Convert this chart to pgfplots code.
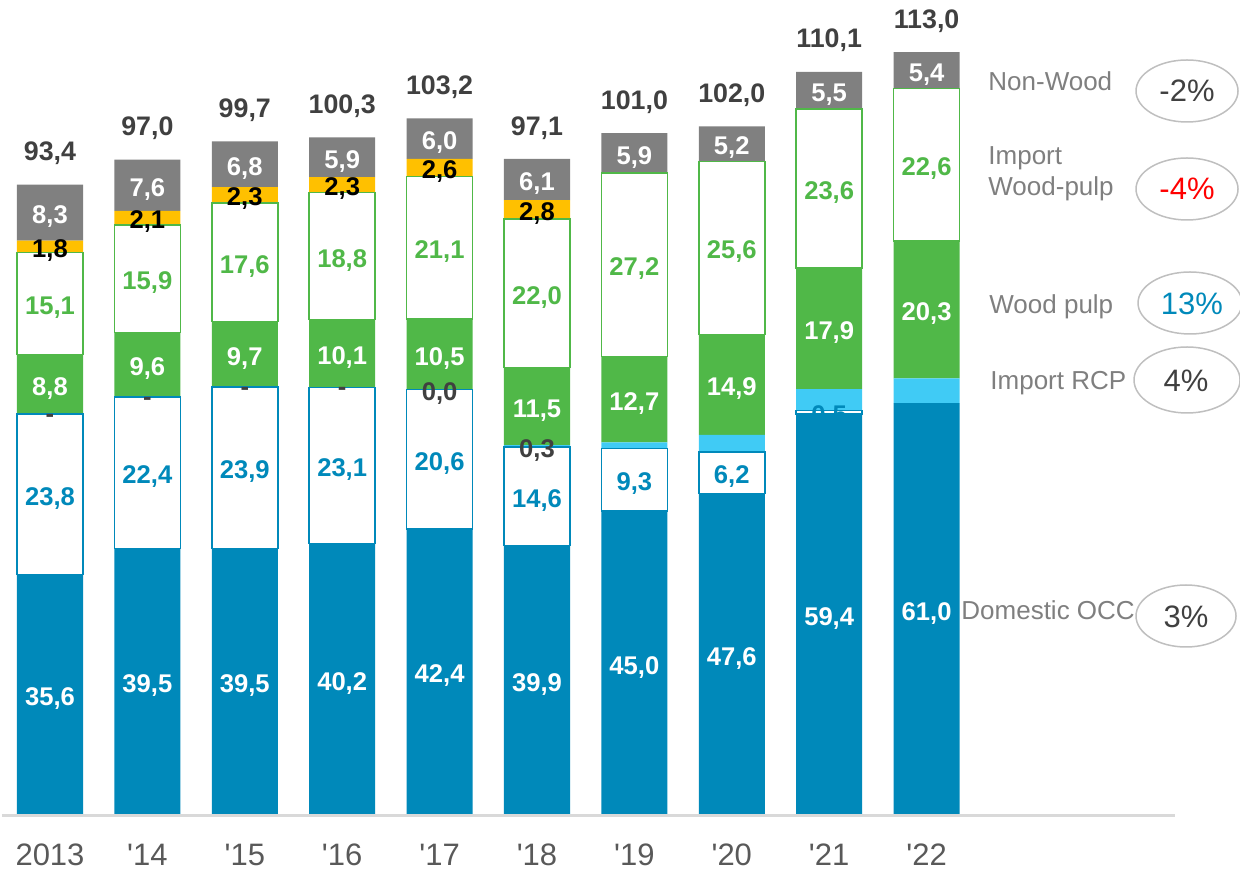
\documentclass[border=0pt]{standalone}
\usepackage{fontspec}
\setmainfont{Liberation Sans}[Ligatures=TeXOff]
\usepackage{pgfplots}
\usepackage{pgfplotstable}
\pgfplotsset{compat=1.18}
\definecolor{cocc}{HTML}{0089BA}
\definecolor{crcp}{HTML}{40CBF5}
\definecolor{cgr}{HTML}{50B848}
\definecolor{cyel}{HTML}{FFC000}
\definecolor{cnw}{HTML}{808080}
\definecolor{ctxt}{HTML}{404040}
\definecolor{ctick}{HTML}{595959}
\definecolor{clab}{HTML}{7F7F7F}
\definecolor{cell}{HTML}{BFBFBF}
\definecolor{caxis}{HTML}{D9D9D9}

\pgfplotstableread{
x occ locc imocc limocc rcp lrcp wp lwp imwp limwp yel lyel nw lnw tot
0 35.6 35,6 23.8 23,8 0   -   8.8  8,8  15.1 15,1 1.8 1,8 8.3 8,3 93,4
1 39.5 39,5 22.4 22,4 0   -   9.6  9,6  15.9 15,9 2.1 2,1 7.6 7,6 97,0
2 39.5 39,5 23.9 23,9 0   -   9.7  9,7  17.6 17,6 2.3 2,3 6.8 6,8 99,7
3 40.2 40,2 23.1 23,1 0   -   10.1 10,1 18.8 18,8 2.3 2,3 5.9 5,9 100,3
4 42.4 42,4 20.6 20,6 0   0,0 10.5 10,5 21.1 21,1 2.6 2,6 6.0 6,0 103,2
5 39.9 39,9 14.6 14,6 0.3 0,3 11.5 11,5 22.0 22,0 2.8 2,8 6.1 6,1 97,1
6 45.0 45,0 9.3  9,3  0.9 {}  12.7 12,7 27.2 27,2 0   {}  5.9 5,9 101,0
7 47.6 47,6 6.2  6,2  2.5 {}  14.9 14,9 25.6 25,6 0   {}  5.2 5,2 102,0
8 59.4 59,4 0.5  0,5  3.2 {}  17.9 17,9 23.6 23,6 0   {}  5.5 5,5 110,1
9 61.0 61,0 0    {}   3.7 {}  20.3 20,3 22.6 22,6 0   {}  5.4 5,4 113,0
}\data
% label positions: middle of each stacked segment (derived from the data above)
\pgfplotstablecreatecol[expr={\thisrow{occ}/2}]{c1}\data
\pgfplotstablecreatecol[expr={\thisrow{occ}+\thisrow{imocc}/2}]{c2}\data
\pgfplotstablecreatecol[expr={\thisrow{occ}+\thisrow{imocc}+\thisrow{rcp}/2}]{c3}\data
\pgfplotstablecreatecol[expr={\thisrow{occ}+\thisrow{imocc}+\thisrow{rcp}+\thisrow{wp}/2}]{c4}\data
\pgfplotstablecreatecol[expr={\thisrow{occ}+\thisrow{imocc}+\thisrow{rcp}+\thisrow{wp}+\thisrow{imwp}/2}]{c5}\data
\pgfplotstablecreatecol[expr={\thisrow{occ}+\thisrow{imocc}+\thisrow{rcp}+\thisrow{wp}+\thisrow{imwp}+\thisrow{yel}/2}]{c6}\data
\pgfplotstablecreatecol[expr={\thisrow{occ}+\thisrow{imocc}+\thisrow{rcp}+\thisrow{wp}+\thisrow{imwp}+\thisrow{yel}+\thisrow{nw}/2}]{c7}\data
\pgfplotstablecreatecol[expr={\thisrow{occ}+\thisrow{imocc}+\thisrow{rcp}+\thisrow{wp}+\thisrow{imwp}+\thisrow{yel}+\thisrow{nw}+5.2}]{c8}\data

\pgfplotsset{
  frame/.style={at={(0,0)}, anchor=south west, scale only axis, width=620pt, height=407.5pt,
    xmin=-0.5133, xmax=12.218, ymin=0, ymax=120.74, enlargelimits=false, clip=false},
  seglab/.style={draw=none, mark=none, nodes near coords, point meta=explicit symbolic,
    every node near coord/.append style={anchor=center, inner sep=0pt, yshift=-2pt,
      font=\bfseries\fontsize{12.8}{14}\selectfont, text=#1}},
}

\begin{document}
\begin{tikzpicture}
\begin{axis}[frame, name=ax,
  ybar stacked, bar width=0.678,
  axis line style={draw=none}, ytick=\empty,
  xtick={0,...,9}, xticklabels={2013,'14,'15,'16,'17,'18,'19,'20,'21,'22},
  major tick length=0pt,
  xticklabel style={anchor=center, yshift=-20pt, font=\fontsize{15.5}{16}\selectfont, text=ctick},
]
\draw[line width=1.5pt, color=caxis] (axis cs:-0.493,0) -- (axis cs:11.55,0);
\addplot[fill=cocc, draw=none] table[x=x,y=occ]{\data};
\addplot[fill=white, draw=cocc, line width=0.75pt] table[x=x,y=imocc]{\data};
\addplot[fill=crcp, draw=none] table[x=x,y=rcp]{\data};
\addplot[fill=cgr, draw=none] table[x=x,y=wp]{\data};
\addplot[fill=white, draw=cgr, line width=0.75pt] table[x=x,y=imwp]{\data};
\addplot[fill=cyel, draw=none] table[x=x,y=yel]{\data};
\addplot[fill=cnw, draw=none] table[x=x,y=nw]{\data};
\end{axis}
\begin{axis}[frame, hide axis]
\addplot[seglab=white] table[x=x,y=c1,meta=locc]{\data};
\addplot[seglab=cocc] table[x=x,y=c2,meta=limocc]{\data};
\addplot[seglab=ctxt] table[x=x,y=c3,meta=lrcp]{\data};
\addplot[seglab=white] table[x=x,y=c4,meta=lwp]{\data};
\addplot[seglab=cgr] table[x=x,y=c5,meta=limwp]{\data};
\addplot[seglab=black] table[x=x,y=c6,meta=lyel]{\data};
\addplot[seglab=white] table[x=x,y=c7,meta=lnw]{\data};
\addplot[seglab=ctxt, every node near coord/.append style={font=\bfseries\fontsize{13.4}{15}\selectfont}]
  table[x=x,y=c8,meta=tot]{\data};
\end{axis}
\begin{scope}[shift={(ax.north west)}, x=0.5pt, y=-0.5pt]
  \begin{scope}[every node/.style={anchor=west, inner sep=0pt, text=clab, font=\fontsize{13}{15.5}\selectfont}]
    \node at (988,81) {Non-Wood};
    \node[align=left] at (988,174) {Import\\Wood-pulp};
    \node at (989,307) {Wood pulp};
    \node at (990,383) {Import RCP};
    \node at (961,610) {Domestic OCC};
  \end{scope}
  \begin{scope}[every node/.style={inner sep=0pt, font=\fontsize{15.5}{17}\selectfont}]
    \draw[cell, line width=0.75pt] (1187,91) ellipse [x radius=25.5pt, y radius=15.5pt];
    \node[text=ctxt] at (1187,91) {-2\%};
    \draw[cell, line width=0.75pt] (1187,189) ellipse [x radius=25.5pt, y radius=15.5pt];
    \node[text=red] at (1187,189) {-4\%};
    \draw[cell, line width=0.75pt] (1190,303) ellipse [x radius=26pt, y radius=15.5pt];
    \node[text=cocc] at (1192,304) {13\%};
    \draw[cell, line width=0.75pt] (1187,380) ellipse [x radius=26.5pt, y radius=16.5pt];
    \node[text=ctxt] at (1186,381) {4\%};
    \draw[cell, line width=0.75pt] (1186,616) ellipse [x radius=25pt, y radius=15.5pt];
    \node[text=ctxt] at (1186,617) {3\%};
  \end{scope}
\end{scope}
\pgfresetboundingbox
\path[use as bounding box] (ax.north west) rectangle ([yshift=-28pt]ax.south east);
\end{tikzpicture}
\end{document}
